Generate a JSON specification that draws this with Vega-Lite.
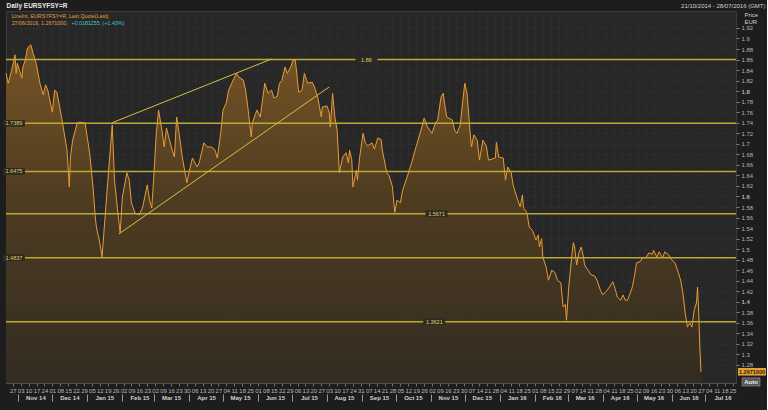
{
  "$schema": "https://vega.github.io/schema/vega-lite/v6.json",
  "width": 730,
  "height": 372,
  "padding": {"left": 2, "top": 2, "right": 1, "bottom": 8},
  "background": "#1d1d1d",
  "config": {
    "view": {"fill": "#272727", "stroke": "#3c3c3c"},
    "font": "Liberation Sans",
    "axis": {"labelFont": "Liberation Sans", "titleFont": "Liberation Sans"}
  },
  "resolve": {"axis": {"x": "independent", "y": "independent"}},
  "datasets": {
    "series": [
      {"d":"2014-10-21","v":1.834},{"d":"2014-10-23","v":1.815},{"d":"2014-10-26","v":1.840},{"d":"2014-10-29","v":1.869},
      {"d":"2014-10-30","v":1.834},{"d":"2014-10-31","v":1.853},{"d":"2014-11-04","v":1.825},{"d":"2014-11-05","v":1.846},
      {"d":"2014-11-07","v":1.859},{"d":"2014-11-09","v":1.882},{"d":"2014-11-12","v":1.888},{"d":"2014-11-14","v":1.872},
      {"d":"2014-11-17","v":1.850},{"d":"2014-11-20","v":1.815},{"d":"2014-11-23","v":1.793},{"d":"2014-11-25","v":1.812},
      {"d":"2014-11-27","v":1.802},{"d":"2014-12-01","v":1.760},{"d":"2014-12-03","v":1.802},{"d":"2014-12-05","v":1.798},
      {"d":"2014-12-08","v":1.764},{"d":"2014-12-10","v":1.740},{"d":"2014-12-14","v":1.688},{"d":"2014-12-16","v":1.618},
      {"d":"2014-12-17","v":1.675},{"d":"2014-12-19","v":1.707},{"d":"2014-12-23","v":1.740},{"d":"2014-12-25","v":1.741},
      {"d":"2014-12-30","v":1.740},{"d":"2015-01-01","v":1.711},{"d":"2015-01-03","v":1.683},{"d":"2015-01-06","v":1.618},
      {"d":"2015-01-08","v":1.561},{"d":"2015-01-09","v":1.542},{"d":"2015-01-12","v":1.512},{"d":"2015-01-14","v":1.485},
      {"d":"2015-01-16","v":1.542},{"d":"2015-01-19","v":1.626},{"d":"2015-01-23","v":1.736},{"d":"2015-01-25","v":1.631},
      {"d":"2015-01-28","v":1.569},{"d":"2015-01-30","v":1.531},{"d":"2015-02-01","v":1.599},{"d":"2015-02-05","v":1.645},
      {"d":"2015-02-07","v":1.631},{"d":"2015-02-09","v":1.588},{"d":"2015-02-12","v":1.569},{"d":"2015-02-16","v":1.565},
      {"d":"2015-02-19","v":1.580},{"d":"2015-02-23","v":1.622},{"d":"2015-02-25","v":1.593},{"d":"2015-02-27","v":1.578},
      {"d":"2015-03-01","v":1.645},{"d":"2015-03-03","v":1.720},{"d":"2015-03-05","v":1.764},{"d":"2015-03-08","v":1.726},
      {"d":"2015-03-10","v":1.694},{"d":"2015-03-12","v":1.730},{"d":"2015-03-14","v":1.713},{"d":"2015-03-17","v":1.688},
      {"d":"2015-03-19","v":1.675},{"d":"2015-03-21","v":1.751},{"d":"2015-03-24","v":1.707},{"d":"2015-03-26","v":1.675},
      {"d":"2015-03-30","v":1.626},{"d":"2015-04-02","v":1.656},{"d":"2015-04-04","v":1.673},{"d":"2015-04-08","v":1.656},
      {"d":"2015-04-10","v":1.664},{"d":"2015-04-14","v":1.702},{"d":"2015-04-17","v":1.694},{"d":"2015-04-21","v":1.694},
      {"d":"2015-04-24","v":1.688},{"d":"2015-04-26","v":1.673},{"d":"2015-04-29","v":1.720},{"d":"2015-05-01","v":1.764},
      {"d":"2015-05-04","v":1.778},{"d":"2015-05-06","v":1.802},{"d":"2015-05-10","v":1.821},{"d":"2015-05-13","v":1.834},
      {"d":"2015-05-15","v":1.827},{"d":"2015-05-19","v":1.821},{"d":"2015-05-21","v":1.802},{"d":"2015-05-23","v":1.770},
      {"d":"2015-05-26","v":1.713},{"d":"2015-05-27","v":1.740},{"d":"2015-05-31","v":1.764},{"d":"2015-06-03","v":1.751},
      {"d":"2015-06-07","v":1.815},{"d":"2015-06-10","v":1.796},{"d":"2015-06-13","v":1.802},{"d":"2015-06-15","v":1.787},
      {"d":"2015-06-18","v":1.790},{"d":"2015-06-20","v":1.815},{"d":"2015-06-22","v":1.820},{"d":"2015-06-25","v":1.846},
      {"d":"2015-06-27","v":1.834},{"d":"2015-06-30","v":1.846},{"d":"2015-07-02","v":1.859},{"d":"2015-07-04","v":1.859},
      {"d":"2015-07-05","v":1.840},{"d":"2015-07-07","v":1.798},{"d":"2015-07-10","v":1.802},{"d":"2015-07-12","v":1.834},
      {"d":"2015-07-15","v":1.815},{"d":"2015-07-19","v":1.817},{"d":"2015-07-21","v":1.808},{"d":"2015-07-24","v":1.787},
      {"d":"2015-07-27","v":1.751},{"d":"2015-07-28","v":1.770},{"d":"2015-08-01","v":1.772},{"d":"2015-08-03","v":1.760},
      {"d":"2015-08-04","v":1.732},{"d":"2015-08-06","v":1.796},{"d":"2015-08-08","v":1.751},{"d":"2015-08-10","v":1.726},
      {"d":"2015-08-12","v":1.645},{"d":"2015-08-15","v":1.675},{"d":"2015-08-18","v":1.683},{"d":"2015-08-20","v":1.664},
      {"d":"2015-08-21","v":1.688},{"d":"2015-08-23","v":1.670},{"d":"2015-08-24","v":1.618},{"d":"2015-08-27","v":1.650},
      {"d":"2015-08-28","v":1.631},{"d":"2015-08-30","v":1.675},{"d":"2015-09-02","v":1.720},{"d":"2015-09-04","v":1.702},
      {"d":"2015-09-06","v":1.696},{"d":"2015-09-10","v":1.702},{"d":"2015-09-12","v":1.690},{"d":"2015-09-15","v":1.711},
      {"d":"2015-09-18","v":1.708},{"d":"2015-09-19","v":1.688},{"d":"2015-09-23","v":1.645},{"d":"2015-09-25","v":1.640},
      {"d":"2015-09-28","v":1.618},{"d":"2015-09-30","v":1.570},{"d":"2015-10-02","v":1.593},{"d":"2015-10-05","v":1.588},
      {"d":"2015-10-07","v":1.612},{"d":"2015-10-11","v":1.637},{"d":"2015-10-15","v":1.664},{"d":"2015-10-18","v":1.688},
      {"d":"2015-10-20","v":1.702},{"d":"2015-10-24","v":1.732},{"d":"2015-10-26","v":1.749},{"d":"2015-10-29","v":1.732},
      {"d":"2015-11-02","v":1.720},{"d":"2015-11-05","v":1.740},{"d":"2015-11-07","v":1.745},{"d":"2015-11-10","v":1.789},
      {"d":"2015-11-12","v":1.796},{"d":"2015-11-13","v":1.778},{"d":"2015-11-15","v":1.751},{"d":"2015-11-20","v":1.745},
      {"d":"2015-11-22","v":1.726},{"d":"2015-11-24","v":1.720},{"d":"2015-11-27","v":1.736},{"d":"2015-11-29","v":1.778},
      {"d":"2015-12-01","v":1.815},{"d":"2015-12-03","v":1.796},{"d":"2015-12-06","v":1.713},{"d":"2015-12-07","v":1.694},
      {"d":"2015-12-09","v":1.717},{"d":"2015-12-12","v":1.707},{"d":"2015-12-14","v":1.669},{"d":"2015-12-17","v":1.707},
      {"d":"2015-12-20","v":1.696},{"d":"2015-12-22","v":1.669},{"d":"2015-12-25","v":1.671},{"d":"2015-12-28","v":1.673},
      {"d":"2015-12-29","v":1.703},{"d":"2015-12-31","v":1.675},{"d":"2016-01-04","v":1.673},{"d":"2016-01-06","v":1.631},
      {"d":"2016-01-08","v":1.656},{"d":"2016-01-11","v":1.645},{"d":"2016-01-13","v":1.620},{"d":"2016-01-16","v":1.599},
      {"d":"2016-01-19","v":1.580},{"d":"2016-01-21","v":1.603},{"d":"2016-01-22","v":1.578},{"d":"2016-01-25","v":1.569},
      {"d":"2016-01-27","v":1.542},{"d":"2016-01-30","v":1.535},{"d":"2016-02-02","v":1.517},{"d":"2016-02-04","v":1.527},
      {"d":"2016-02-05","v":1.504},{"d":"2016-02-07","v":1.520},{"d":"2016-02-08","v":1.485},{"d":"2016-02-11","v":1.466},
      {"d":"2016-02-13","v":1.441},{"d":"2016-02-16","v":1.460},{"d":"2016-02-19","v":1.455},{"d":"2016-02-21","v":1.441},
      {"d":"2016-02-24","v":1.436},{"d":"2016-02-26","v":1.390},{"d":"2016-02-28","v":1.395},{"d":"2016-02-29","v":1.365},
      {"d":"2016-03-02","v":1.428},{"d":"2016-03-05","v":1.493},{"d":"2016-03-06","v":1.512},{"d":"2016-03-07","v":1.507},
      {"d":"2016-03-09","v":1.470},{"d":"2016-03-11","v":1.493},{"d":"2016-03-13","v":1.504},{"d":"2016-03-15","v":1.485},
      {"d":"2016-03-16","v":1.470},{"d":"2016-03-19","v":1.460},{"d":"2016-03-22","v":1.451},{"d":"2016-03-25","v":1.449},
      {"d":"2016-03-27","v":1.441},{"d":"2016-03-30","v":1.422},{"d":"2016-04-01","v":1.413},{"d":"2016-04-05","v":1.422},
      {"d":"2016-04-07","v":1.428},{"d":"2016-04-10","v":1.438},{"d":"2016-04-12","v":1.425},{"d":"2016-04-14","v":1.409},
      {"d":"2016-04-17","v":1.403},{"d":"2016-04-19","v":1.413},{"d":"2016-04-21","v":1.403},{"d":"2016-04-23","v":1.403},
      {"d":"2016-04-27","v":1.426},{"d":"2016-04-29","v":1.447},{"d":"2016-05-01","v":1.474},{"d":"2016-05-04","v":1.476},
      {"d":"2016-05-07","v":1.485},{"d":"2016-05-09","v":1.483},{"d":"2016-05-12","v":1.493},{"d":"2016-05-15","v":1.490},
      {"d":"2016-05-16","v":1.498},{"d":"2016-05-19","v":1.485},{"d":"2016-05-21","v":1.495},{"d":"2016-05-24","v":1.483},
      {"d":"2016-05-26","v":1.495},{"d":"2016-05-29","v":1.490},{"d":"2016-06-01","v":1.480},{"d":"2016-06-04","v":1.474},
      {"d":"2016-06-07","v":1.455},{"d":"2016-06-09","v":1.441},{"d":"2016-06-11","v":1.417},{"d":"2016-06-13","v":1.379},
      {"d":"2016-06-15","v":1.352},{"d":"2016-06-17","v":1.360},{"d":"2016-06-19","v":1.352},{"d":"2016-06-21","v":1.384},
      {"d":"2016-06-23","v":1.398},{"d":"2016-06-24","v":1.428},{"d":"2016-06-25","v":1.379},{"d":"2016-06-26","v":1.314},
      {"d":"2016-06-27","v":1.2671}
    ],
    "levels": [
      {"level":1.86,"label":"1.86","at":"2015-09-05"},
      {"level":1.7389,"label":"1.7389","at":"2014-10-28"},
      {"level":1.6475,"label":"1.6475","at":"2014-10-28"},
      {"level":1.5671,"label":"1.5671","at":"2015-11-06"},
      {"level":1.4837,"label":"1.4837","at":"2014-10-28"},
      {"level":1.3621,"label":"1.3621","at":"2015-11-04"}
    ],
    "channel": [
      {"id":"upper","d":"2015-01-23","v":1.740},{"id":"upper","d":"2015-06-13","v":1.861},
      {"id":"lower","d":"2015-01-29","v":1.529},{"id":"lower","d":"2015-08-03","v":1.808}
    ]
  },
  "layer": [
    {
      "data": {"name": "series"},
      "mark": {"type": "area", "clip": true, "opacity": 0.95, "color": {"x1": 0, "y1": 0, "x2": 0, "y2": 1, "gradient": "linear", "stops": [{"offset": 0, "color": "#7c5726"}, {"offset": 0.45, "color": "#503d20"}, {"offset": 1, "color": "#342c22"}]}},
      "encoding": {
        "x": {"field": "d", "type": "temporal", "scale": {"type": "utc", "domain": [1413849600000, 1469664000000], "nice": false},
          "axis": {"orient": "bottom", "title": null, "format": "%d",
            "values": [1414368000000,1414972800000,1415577600000,1416182400000,1416787200000,1417392000000,1417996800000,1418601600000,1419206400000,1419811200000,1420416000000,1421020800000,1421625600000,1422230400000,1422835200000,1423440000000,1424044800000,1424649600000,1425254400000,1425859200000,1426464000000,1427068800000,1427673600000,1428278400000,1428883200000,1429488000000,1430092800000,1430697600000,1431302400000,1431907200000,1432512000000,1433116800000,1433721600000,1434326400000,1434931200000,1435536000000,1436140800000,1436745600000,1437350400000,1437955200000,1438560000000,1439164800000,1439769600000,1440374400000,1440979200000,1441584000000,1442188800000,1442793600000,1443398400000,1444003200000,1444608000000,1445212800000,1445817600000,1446422400000,1447027200000,1447632000000,1448236800000,1448841600000,1449446400000,1450051200000,1450656000000,1451260800000,1451865600000,1452470400000,1453075200000,1453680000000,1454284800000,1454889600000,1455494400000,1456099200000,1456704000000,1457308800000,1457913600000,1458518400000,1459123200000,1459728000000,1460332800000,1460937600000,1461542400000,1462147200000,1462752000000,1463356800000,1463961600000,1464566400000,1465171200000,1465776000000,1466380800000,1466985600000,1467590400000,1468195200000,1468800000000,1469404800000],
            "labelFontSize": 6, "labelColor": "#b8b8b8", "tickSize": 3, "tickColor": "#707070", "labelPadding": 1,
            "domain": true, "domainColor": "#505050", "grid": true, "gridColor": "#363636", "gridDash": [1, 2],
            "labelOverlap": false, "labelFlush": false, "labelBound": false}},
        "y": {"field": "v", "type": "quantitative", "scale": {"domain": [1.2458, 1.9522], "nice": false, "zero": false},
          "axis": {"orient": "right", "values": [1.28,1.3,1.32,1.34,1.36,1.38,1.4,1.42,1.44,1.46,1.48,1.5,1.52,1.54,1.56,1.58,1.6,1.62,1.64,1.66,1.68,1.7,1.72,1.74,1.76,1.78,1.8,1.82,1.84,1.86,1.88,1.9,1.92],
            "labels": false, "ticks": false, "domain": false, "title": null,
            "grid": true, "gridColor": "#363636", "gridDash": [1, 2]}},
        "y2": {"datum": 1.2458}
      }
    },
    {
      "data": {"name": "series"},
      "mark": {"type": "line", "color": "#e99b35", "strokeWidth": 1},
      "encoding": {
        "x": {"field": "d", "type": "temporal", "scale": {"type": "utc", "domain": [1413849600000, 1469664000000], "nice": false},
          "axis": {"orient": "bottom", "title": null, "offset": 11, "tickCount": {"interval": "month", "step": 1}, "format": "%b %y",
            "labelOffset": 17, "labelAlign": "center", "labelBaseline": "middle", "labelPadding": -3.5,
            "tickSize": 7, "tickColor": "#9a9a9a", "domain": false, "grid": false,
            "labelFontSize": 6, "labelFontWeight": "bold", "labelColor": "#d0d0d0",
            "labelOverlap": false, "labelFlush": false, "labelBound": false}},
        "y": {"field": "v", "type": "quantitative", "scale": {"domain": [1.2458, 1.9522], "nice": false, "zero": false}, "axis": null}
      }
    },
    {
      "data": {"name": "levels"},
      "mark": {"type": "rule", "color": "#bda934", "strokeWidth": 1.5},
      "encoding": {
        "y": {"field": "level", "type": "quantitative", "scale": {"domain": [1.2458, 1.9522], "nice": false, "zero": false},
          "axis": {"orient": "right", "zindex": 2, "values": [1.28,1.3,1.32,1.34,1.36,1.38,1.4,1.42,1.44,1.46,1.48,1.5,1.52,1.54,1.56,1.58,1.6,1.62,1.64,1.66,1.68,1.7,1.72,1.74,1.76,1.78,1.8,1.82,1.84,1.86,1.88,1.9,1.92],
            "format": ".2~f", "labelFontSize": 6, "labelColor": "#b4b4b4",
            "labelFontWeight": {"expr": "abs(datum.value*5 - round(datum.value*5)) < 0.01 ? 'bold' : 'normal'"},
            "tickSize": 3, "tickColor": "#808080", "labelPadding": 2, "domain": false, "grid": false, "labelOverlap": false,
            "title": ["Price", "EUR"], "titleAngle": 0, "titleAlign": "left", "titleBaseline": "top",
            "titleX": 8, "titleY": 0, "titleFontSize": 6, "titleLineHeight": 7, "titleFontWeight": "normal", "titleColor": "#cfcfcf"}}
      }
    },
    {
      "data": {"name": "channel"},
      "mark": {"type": "line", "color": "#d2c048", "strokeWidth": 1},
      "encoding": {
        "x": {"field": "d", "type": "temporal", "scale": {"type": "utc", "domain": [1413849600000, 1469664000000], "nice": false},
          "axis": {"orient": "top", "title": "Daily EURSYFSY=R", "titleX": 0, "titleY": -6, "titleAlign": "left", "titleBaseline": "middle",
            "titleFontSize": 6.5, "titleFontWeight": "bold", "titleColor": "#e6e6e6",
            "labels": false, "ticks": false, "domain": false, "grid": false}},
        "y": {"field": "v", "type": "quantitative", "scale": {"domain": [1.2458, 1.9522], "nice": false, "zero": false}, "axis": null},
        "detail": {"field": "id", "type": "nominal"}
      }
    },
    {
      "data": {"name": "levels"},
      "mark": {"type": "point", "shape": "M-1,-0.3L1,-0.3L1,0.3L-1,0.3Z", "size": 484, "filled": true, "fill": "#2b2a24", "strokeWidth": 0, "opacity": 1},
      "encoding": {
        "x": {"field": "at", "type": "temporal", "scale": {"type": "utc", "domain": [1413849600000, 1469664000000], "nice": false}, "axis": null},
        "y": {"field": "level", "type": "quantitative", "scale": {"domain": [1.2458, 1.9522], "nice": false, "zero": false}, "axis": null}
      }
    },
    {
      "data": {"name": "levels"},
      "mark": {"type": "text", "color": "#e2d160", "fontSize": 5.5, "align": "center", "baseline": "middle"},
      "encoding": {
        "x": {"field": "at", "type": "temporal", "scale": {"type": "utc", "domain": [1413849600000, 1469664000000], "nice": false},
          "axis": {"orient": "top", "title": "21/10/2014 - 28/07/2016 (GMT)", "titleX": 759, "titleY": -6, "titleAlign": "right", "titleBaseline": "middle",
            "titleFontSize": 6, "titleFontWeight": "normal", "titleColor": "#cfcfcf",
            "labels": false, "ticks": false, "domain": false, "grid": false}},
        "y": {"field": "level", "type": "quantitative", "scale": {"domain": [1.2458, 1.9522], "nice": false, "zero": false}, "axis": null},
        "text": {"field": "label", "type": "nominal"}
      }
    },
    {
      "data": {"values": [{}]},
      "mark": {"type": "text", "text": "LineInt, EURSYFSY=R, Last Quote(Last)", "align": "left", "baseline": "middle", "fontSize": 5.3, "color": "#e0a040"},
      "encoding": {
        "x": {"datum": {"year": 2014, "month": 10, "date": 26, "utc": true}, "type": "temporal", "scale": {"type": "utc", "domain": [1413849600000, 1469664000000], "nice": false}, "axis": null},
        "y": {"datum": 1.9425, "type": "quantitative", "scale": {"domain": [1.2458, 1.9522], "nice": false, "zero": false}, "axis": null}
      }
    },
    {
      "data": {"values": [{}]},
      "mark": {"type": "text", "text": "27/06/2016, 1.2671000,", "align": "left", "baseline": "middle", "fontSize": 5.3, "color": "#e0a040"},
      "encoding": {
        "x": {"datum": {"year": 2014, "month": 10, "date": 26, "utc": true}, "type": "temporal", "scale": {"type": "utc", "domain": [1413849600000, 1469664000000], "nice": false}, "axis": null},
        "y": {"datum": 1.9292, "type": "quantitative", "scale": {"domain": [1.2458, 1.9522], "nice": false, "zero": false}, "axis": null}
      }
    },
    {
      "data": {"values": [{}]},
      "mark": {"type": "text", "text": "+0.0181255, (+1.43%)", "align": "left", "baseline": "middle", "fontSize": 5.3, "color": "#3ec8c8"},
      "encoding": {
        "x": {"datum": {"year": 2014, "month": 12, "date": 18, "utc": true}, "type": "temporal", "scale": {"type": "utc", "domain": [1413849600000, 1469664000000], "nice": false}, "axis": null},
        "y": {"datum": 1.9292, "type": "quantitative", "scale": {"domain": [1.2458, 1.9522], "nice": false, "zero": false}, "axis": null}
      }
    },
    {
      "data": {"values": [{}]},
      "mark": {"type": "point", "shape": "M-1,-0.27L1,-0.27L1,0.27L-1,0.27Z", "size": 784, "filled": true, "fill": "#e8a030", "strokeWidth": 0, "opacity": 1, "xOffset": 16, "clip": false},
      "encoding": {
        "x": {"datum": {"year": 2016, "month": 7, "date": 28, "utc": true}, "type": "temporal", "scale": {"type": "utc", "domain": [1413849600000, 1469664000000], "nice": false}, "axis": null},
        "y": {"datum": 1.2671, "type": "quantitative", "scale": {"domain": [1.2458, 1.9522], "nice": false, "zero": false}, "axis": null}
      }
    },
    {
      "data": {"values": [{}]},
      "mark": {"type": "text", "text": "1.2671000", "align": "center", "baseline": "middle", "fontSize": 5.5, "fontWeight": "bold", "color": "#1a1a1a", "xOffset": 16},
      "encoding": {
        "x": {"datum": {"year": 2016, "month": 7, "date": 28, "utc": true}, "type": "temporal", "scale": {"type": "utc", "domain": [1413849600000, 1469664000000], "nice": false}, "axis": null},
        "y": {"datum": 1.2671, "type": "quantitative", "scale": {"domain": [1.2458, 1.9522], "nice": false, "zero": false}, "axis": null}
      }
    },
    {
      "data": {"values": [{}]},
      "mark": {"type": "point", "shape": "M-1,-0.45L1,-0.45L1,0.45L-1,0.45Z", "size": 324, "filled": true, "fill": "#555555", "stroke": "#9a9a9a", "strokeWidth": 0.6, "opacity": 1, "xOffset": 15},
      "encoding": {
        "x": {"datum": {"year": 2016, "month": 7, "date": 28, "utc": true}, "type": "temporal", "scale": {"type": "utc", "domain": [1413849600000, 1469664000000], "nice": false}, "axis": null},
        "y": {"datum": 1.2478, "type": "quantitative", "scale": {"domain": [1.2458, 1.9522], "nice": false, "zero": false}, "axis": null}
      }
    },
    {
      "data": {"values": [{}]},
      "mark": {"type": "text", "text": "Auto", "align": "center", "baseline": "middle", "fontSize": 6, "fontWeight": "bold", "color": "#f0f0f0", "xOffset": 15},
      "encoding": {
        "x": {"datum": {"year": 2016, "month": 7, "date": 28, "utc": true}, "type": "temporal", "scale": {"type": "utc", "domain": [1413849600000, 1469664000000], "nice": false}, "axis": null},
        "y": {"datum": 1.2478, "type": "quantitative", "scale": {"domain": [1.2458, 1.9522], "nice": false, "zero": false}, "axis": null}
      }
    }
  ]
}
